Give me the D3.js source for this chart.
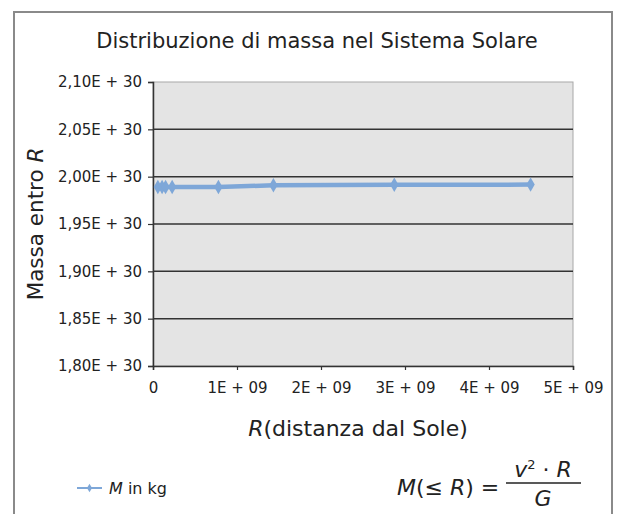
<!DOCTYPE html>
<html>
<head>
<meta charset="utf-8">
<script src="https://cdn.jsdelivr.net/npm/d3@7"></script>
<style>
  html, body { margin: 0; padding: 0; background: #fff; }
  svg text { font-family: "DejaVu Sans", sans-serif; fill: #222; }
</style>
</head>
<body>
<svg id="chart" width="617" height="514"></svg>
<script>
// Orbital radius of each planet (km) and mass enclosed within that orbit (kg)
const planets = ["Mercurio", "Venere", "Terra", "Marte", "Giove", "Saturno", "Urano", "Nettuno"];
const radius = [5.79e7, 1.082e8, 1.496e8, 2.279e8, 7.786e8, 1.4335e9, 2.8725e9, 4.4951e9];
const massWithin = [1.9890e30, 1.9890e30, 1.9890e30, 1.9890e30, 1.9891e30, 1.9909e30, 1.9915e30, 1.9916e30];

const yTicks = [1.80e30, 1.85e30, 1.90e30, 1.95e30, 2.00e30, 2.05e30, 2.10e30];
const yTickLabels = ["1,80E + 30", "1,85E + 30", "1,90E + 30", "1,95E + 30", "2,00E + 30", "2,05E + 30", "2,10E + 30"];
const xTicks = [0, 1e9, 2e9, 3e9, 4e9, 5e9];
const xTickLabels = ["0", "1E + 09", "2E + 09", "3E + 09", "4E + 09", "5E + 09"];

const svg = d3.select("#chart");
const plot = { left: 153, right: 573, top: 82, bottom: 366 };

const x = d3.scaleLinear().domain([0, 5e9]).range([plot.left, plot.right]);
const y = d3.scaleLinear().domain([1.80e30, 2.10e30]).range([plot.bottom, plot.top]);

// outer frame
svg.append("rect")
  .attr("x", 14).attr("y", 12).attr("width", 598).attr("height", 520)
  .attr("fill", "#fff").attr("stroke", "#8a8a8a").attr("stroke-width", 2);

// title
svg.append("text")
  .attr("x", 317).attr("y", 48)
  .attr("text-anchor", "middle")
  .style("font-size", "21px")
  .text("Distribuzione di massa nel Sistema Solare");

// plot background
svg.append("rect")
  .attr("x", plot.left).attr("y", plot.top)
  .attr("width", plot.right - plot.left).attr("height", plot.bottom - plot.top)
  .attr("fill", "#e4e4e4").attr("stroke", "#a8a8a8").attr("stroke-width", 1);

// horizontal gridlines
svg.append("g")
  .selectAll("line")
  .data(yTicks.slice(1, -1))
  .join("line")
  .attr("x1", plot.left).attr("x2", plot.right)
  .attr("y1", d => y(d)).attr("y2", d => y(d))
  .attr("stroke", "#333").attr("stroke-width", 1.5);

// y axis
const yAxis = d3.axisLeft(y)
  .tickValues(yTicks)
  .tickSize(5)
  .tickPadding(6)
  .tickFormat((d, i) => yTickLabels[i]);
const gy = svg.append("g").attr("transform", `translate(${plot.left},0)`).call(yAxis);
gy.select(".domain").attr("stroke", "#333").attr("stroke-width", 1.5);
gy.selectAll(".tick line").attr("stroke", "#333").attr("stroke-width", 1.2);
gy.selectAll(".tick text").style("font-size", "15px").attr("fill", "#222")
  .style("font-family", "DejaVu Sans, sans-serif");

// x axis
const xAxis = d3.axisBottom(x)
  .tickValues(xTicks)
  .tickSize(4)
  .tickPadding(12)
  .tickFormat((d, i) => xTickLabels[i]);
const gx = svg.append("g").attr("transform", `translate(0,${plot.bottom})`).call(xAxis);
gx.select(".domain").attr("stroke", "#333").attr("stroke-width", 1.5);
gx.selectAll(".tick line").attr("stroke", "#333").attr("stroke-width", 1.2);
gx.selectAll(".tick text").style("font-size", "15px").attr("fill", "#222")
  .style("font-family", "DejaVu Sans, sans-serif");

// series line with diamond markers
const seriesColor = "#7ea7d8";
const points = radius.map((r, i) => ({ r, m: massWithin[i], name: planets[i] }));
svg.append("path")
  .datum(points)
  .attr("fill", "none")
  .attr("stroke", seriesColor)
  .attr("stroke-width", 4.5)
  .attr("stroke-linejoin", "round")
  .attr("d", d3.line().x(d => x(d.r)).y(d => y(d.m)));

const diamond = d3.symbol().type(d3.symbolDiamond).size(60);
svg.append("g")
  .selectAll("path")
  .data(points)
  .join("path")
  .attr("transform", d => `translate(${x(d.r)},${y(d.m)})`)
  .attr("d", diamond)
  .attr("fill", seriesColor);

// y axis title
const yTitle = svg.append("text")
  .attr("transform", "translate(43,224) rotate(-90)")
  .attr("text-anchor", "middle")
  .style("font-size", "21.5px");
yTitle.append("tspan").text("Massa entro ");
yTitle.append("tspan").style("font-style", "italic").text("R");

// x axis title
const xTitle = svg.append("text")
  .attr("x", 358).attr("y", 436)
  .attr("text-anchor", "middle")
  .style("font-size", "22px");
xTitle.append("tspan").style("font-style", "italic").text("R");
xTitle.append("tspan").text("(distanza dal Sole)");

// legend
svg.append("line")
  .attr("x1", 77).attr("x2", 102).attr("y1", 488).attr("y2", 488)
  .attr("stroke", seriesColor).attr("stroke-width", 2);
svg.append("path")
  .attr("transform", "translate(89.5,488)")
  .attr("d", d3.symbol().type(d3.symbolDiamond).size(22))
  .attr("fill", seriesColor);
const legendText = svg.append("text")
  .attr("x", 109).attr("y", 494)
  .style("font-size", "16px");
legendText.append("tspan").style("font-style", "italic").text("M");
legendText.append("tspan").text(" in kg");

// formula M(≤R) = v²·R / G
const formula = svg.append("g").style("font-size", "22px");
const lhs = formula.append("text").attr("x", 397).attr("y", 495);
lhs.append("tspan").style("font-style", "italic").text("M");
lhs.append("tspan").text("(≤ ");
lhs.append("tspan").style("font-style", "italic").text("R");
lhs.append("tspan").text(") =");

const num = formula.append("text").attr("x", 543).attr("y", 477).attr("text-anchor", "middle");
num.append("tspan").style("font-style", "italic").text("v");
num.append("tspan").attr("dy", -8).style("font-size", "13px").text("2");
num.append("tspan").attr("dy", 8).text(" · ");
num.append("tspan").style("font-style", "italic").text("R");

formula.append("line")
  .attr("x1", 506).attr("x2", 581).attr("y1", 483).attr("y2", 483)
  .attr("stroke", "#222").attr("stroke-width", 1.5);

formula.append("text").attr("x", 543).attr("y", 506).attr("text-anchor", "middle")
  .style("font-style", "italic").text("G");
</script>
</body>
</html>
